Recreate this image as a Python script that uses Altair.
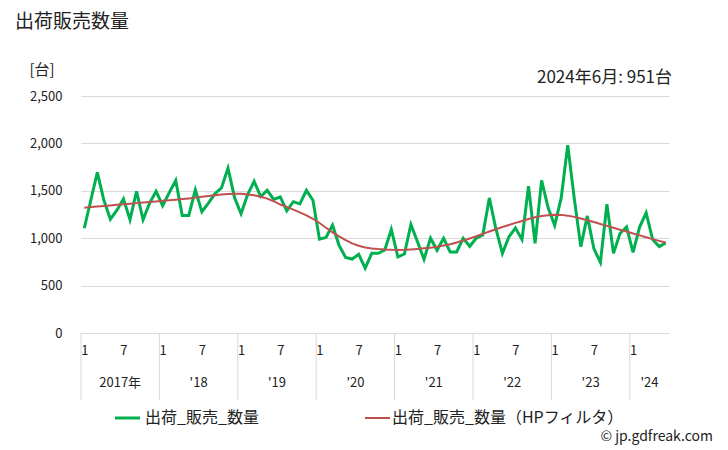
import altair as alt
import pandas as pd

# Monthly shipment/sales volume, Jan 2017 - Jun 2024 (units: 台)
sales = [
    1105, 1400, 1695, 1400, 1200, 1295, 1415, 1195, 1495, 1195, 1370, 1495,   # 2017
    1343, 1480, 1608, 1240, 1240, 1510, 1280, 1370, 1470, 1530, 1740, 1430,   # 2018
    1258, 1460, 1600, 1440, 1505, 1410, 1435, 1288, 1385, 1362, 1505, 1400,   # 2019
    990, 1008, 1138, 925, 797, 780, 830, 685, 840, 840, 875, 1092,            # 2020
    803, 833, 1145, 962, 778, 1000, 872, 1000, 855, 855, 1000, 915,           # 2021
    1000, 1034, 1425, 1100, 840, 1015, 1108, 985, 1550, 945, 1610, 1320,      # 2022
    1135, 1425, 1982, 1420, 911, 1235, 890, 745, 1358, 840, 1050, 1118,       # 2023
    851, 1118, 1268, 985, 912, 951,                                           # 2024
]
hp = [
    1322, 1328, 1334, 1340, 1346, 1352, 1358, 1364, 1370, 1376, 1382, 1388,
    1394, 1400, 1406, 1413, 1420, 1428, 1436, 1444, 1452, 1460, 1466, 1469,
    1468, 1462, 1452, 1438, 1418, 1390, 1355, 1330, 1302, 1272, 1240, 1205,
    1160, 1110, 1062, 1020, 980, 946, 920, 903, 892, 885, 880, 877,
    876, 878, 882, 887, 893, 900, 910, 922, 937, 955, 975, 997,
    1020, 1045, 1070, 1095, 1118, 1140, 1162, 1182, 1202, 1220, 1234, 1243,
    1247, 1246, 1238, 1225, 1208, 1190, 1171, 1150, 1130, 1110, 1090, 1070,
    1050, 1030, 1010, 990, 972, 955,
]
year_labels = ["2017年", "'18", "'19", "'20", "'21", "'22", "'23", "'24"]
month_tick_labels = ["1", "7"]
y_ticks = [0, 500, 1000, 1500, 2000, 2500]

n = len(sales)
df = pd.DataFrame({"i": list(range(n)), "sales": sales, "hp": hp})

# year boundaries and centres derived from month indices
bounds = []
centres = []
for k, lab in enumerate(year_labels):
    first = 12 * k
    last = min(12 * k + 11, n - 1)
    bounds.append(first - 0.5)
    centres.append((first + last) / 2)
df_years = pd.DataFrame({"b": bounds, "c": centres, "lab": year_labels})

month_ticks = [m for m in range(n) if m % 6 == 0]

FONT = "Noto Sans CJK JP"
GREEN = "#00b050"
RED = "#c0504d"
TXT = "#222222"

xscale = alt.Scale(domain=[-0.5, n - 0.5], nice=False, zero=False)
yscale = alt.Scale(domain=[0, 2500], nice=False)

label_expr = "datum.value % 12 == 0 ? '" + month_tick_labels[0] + "' : '" + month_tick_labels[1] + "'"

x_axis = alt.Axis(
    values=month_ticks,
    labelExpr=label_expr,
    title=None, grid=False, ticks=False, domain=False,
    labelPadding=11, labelFontSize=13, labelColor=TXT, labelFont=FONT,
)
y_axis = alt.Axis(
    values=y_ticks, format=",.0f", title=None, ticks=False, domain=False,
    grid=True, gridColor="#d9d9d9", gridWidth=1,
    labelPadding=19, labelFontSize=13, labelColor=TXT, labelFont=FONT,
)

base = alt.Chart(df)
green = base.mark_line(color=GREEN, strokeWidth=3).encode(
    x=alt.X("i:Q", scale=xscale, axis=x_axis),
    y=alt.Y("sales:Q", scale=yscale, axis=y_axis),
)
red = base.mark_line(color=RED, strokeWidth=2).encode(
    x=alt.X("i:Q", scale=xscale),
    y=alt.Y("hp:Q", scale=yscale),
)

seps = alt.Chart(df_years).mark_rule(color="#d9d9d9", strokeWidth=1).encode(
    x=alt.X("b:Q", scale=xscale),
    y=alt.value(237),
    y2=alt.value(304),
)
year_text = alt.Chart(df_years).mark_text(
    fontSize=13, font=FONT, color=TXT, baseline="middle", align="center"
).encode(
    x=alt.X("c:Q", scale=xscale),
    y=alt.value(287),
    text="lab:N",
)


def label(text, x, y, size, align="left", color=TXT):
    return alt.Chart(pd.DataFrame({"t": [text]})).mark_text(
        fontSize=size, font=FONT, color=color, align=align, baseline="middle"
    ).encode(x=alt.value(x), y=alt.value(y), text="t:N")


title = label("出荷販売数量", -66, -74, 19)
unit = label("[台]", -39, -26, 15, align="center")
latest = label("2024年6月: 951台", 591, -18, 17, align="right")
leg1_text = label("出荷_販売_数量", 64, 322, 16)
leg2_text = label("出荷_販売_数量（HPフィルタ）", 311, 322, 16)
copy_text = label("© jp.gdfreak.com", 632, 341, 14, align="right")

leg1_line = alt.Chart(pd.DataFrame({"t": [0]})).mark_rule(color=GREEN, strokeWidth=3).encode(
    x=alt.value(34), x2=alt.value(59), y=alt.value(322)
)
leg2_line = alt.Chart(pd.DataFrame({"t": [0]})).mark_rule(color=RED, strokeWidth=2).encode(
    x=alt.value(284), x2=alt.value(309), y=alt.value(322)
)

chart = alt.layer(
    seps, green, red, year_text, title, unit, latest,
    leg1_line, leg1_text, leg2_line, leg2_text, copy_text,
).properties(
    width=588, height=237,
    autosize=alt.AutoSizeParams(type="none"),
    padding={"left": 73, "top": 88, "right": 50, "bottom": 116},
    background="white",
).configure_view(stroke=None)

chart.save("out.html", embed_options={"renderer": "svg", "actions": False})
